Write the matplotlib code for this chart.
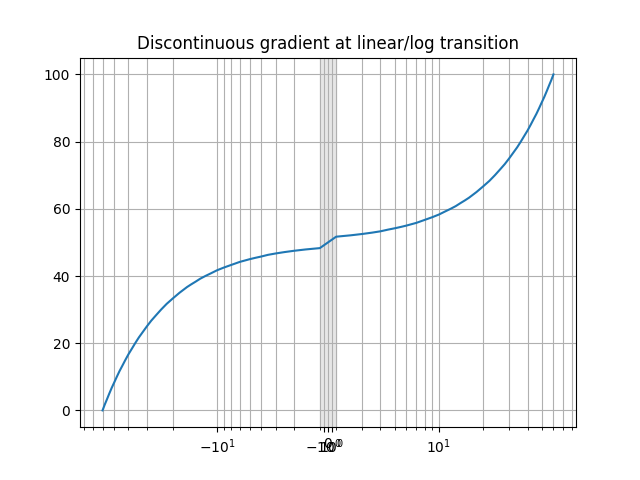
import matplotlib
matplotlib.use("Agg")
import matplotlib.pyplot as plt

# values (y grows linearly with x, x on symlog scale)
x_vals = [-60, -58, -56, -54, -52, -50, -48, -46, -44, -42, -40, -38, -36, -34,
          -32, -30, -28, -26, -24, -22, -20, -18, -16, -15, -14, -13, -12, -11,
          -10, -9, -8, -7, -6, -5.5, -5, -4.5, -4, -3.5, -3, -2.5, -2,
          2, 2.5, 3, 3.5, 4, 4.5, 5, 5.5, 6, 7, 8, 9,
          10, 11, 12, 13, 14, 15, 16, 18, 20, 22, 24, 26, 28, 30, 32, 34,
          36, 38, 40, 42, 44, 46, 48, 50, 52, 54, 56, 58, 60]
y_vals = [0.0, 1.7, 3.3, 5.0, 6.7, 8.3, 10.0, 11.7, 13.3, 15.0, 16.7, 18.3, 20.0, 21.7,
          23.3, 25.0, 26.7, 28.3, 30.0, 31.7, 33.3, 35.0, 36.7, 37.5, 38.3, 39.2, 40.0, 40.8,
          41.7, 42.5, 43.3, 44.2, 45.0, 45.4, 45.8, 46.3, 46.7, 47.1, 47.5, 47.9, 48.3,
          51.7, 52.1, 52.5, 52.9, 53.3, 53.8, 54.2, 54.6, 55.0, 55.8, 56.7, 57.5,
          58.3, 59.2, 60.0, 60.8, 61.7, 62.5, 63.3, 65.0, 66.7, 68.3, 70.0, 71.7, 73.3, 75.0,
          76.7, 78.3, 80.0, 81.7, 83.3, 85.0, 86.7, 88.3, 90.0, 91.7, 93.3, 95.0, 96.7,
          98.3, 100.0]

linthresh = 2
linscale = 0.05

fig, ax = plt.subplots(figsize=(6.4, 4.8), dpi=100)

ax.plot(x_vals, y_vals)
ax.set_xscale('symlog', linthresh=linthresh, linscale=linscale)

# show the minor grid and shade the linear region
ax.xaxis.get_minor_locator().set_params(subs=[2, 3, 4, 5, 6, 7, 8, 9])
ax.grid()
ax.xaxis.grid(which='minor')
ax.axvspan(-linthresh, linthresh, color='0.9')

ax.set_title("Discontinuous gradient at linear/log transition")

fig.savefig("out.png", dpi=100)
